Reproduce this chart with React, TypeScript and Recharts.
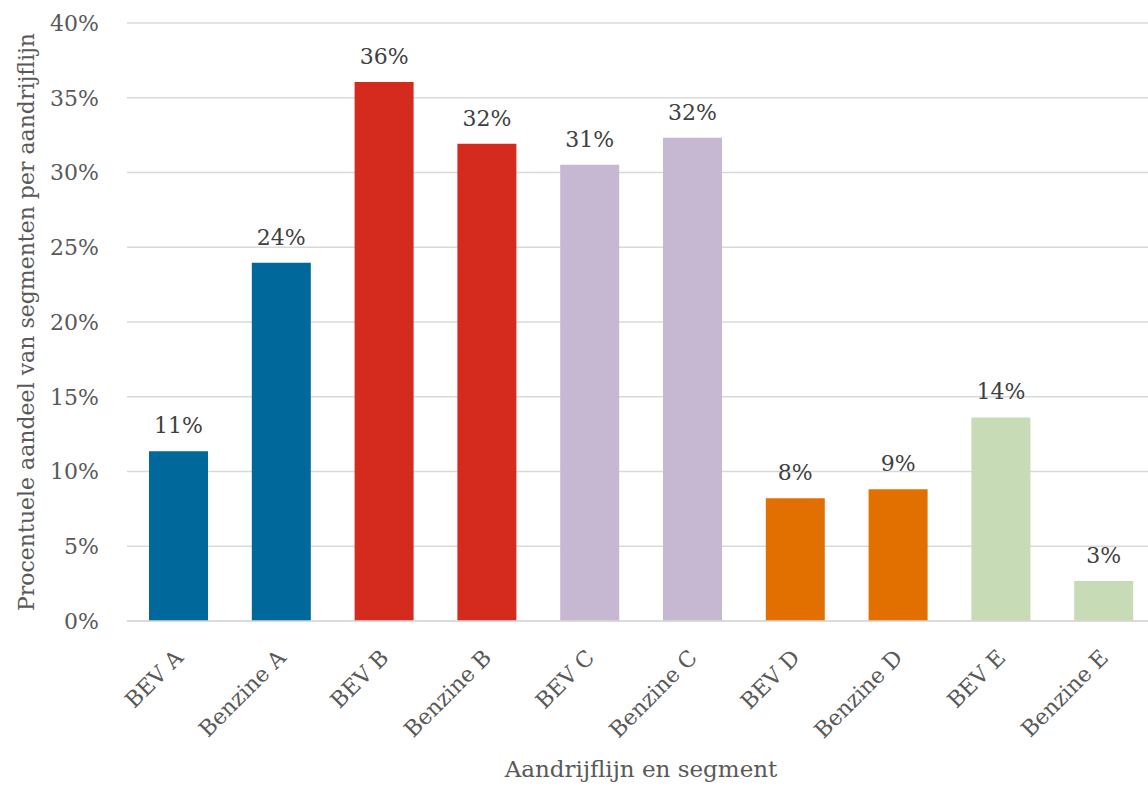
import { BarChart, Bar, XAxis, YAxis, CartesianGrid, Cell, LabelList } from "recharts";

const FONT = "'DejaVu Serif', serif";

const categories = [
  "BEV A", "Benzine A", "BEV B", "Benzine B", "BEV C",
  "Benzine C", "BEV D", "Benzine D", "BEV E", "Benzine E",
];
const shares = [0.1135, 0.2397, 0.3606, 0.3192, 0.3052, 0.3232, 0.0821, 0.0881, 0.1362, 0.0267];
const barColors = [
  "#01689b", "#01689b", "#d52b1e", "#d52b1e", "#c6b8d2",
  "#c6b8d2", "#e17000", "#e17000", "#c6dbb6", "#c6dbb6",
];
const yTicks = [0, 0.05, 0.1, 0.15, 0.2, 0.25, 0.3, 0.35, 0.4];

const data = categories.map((name, i) => ({ name, share: shares[i] }));

const pct = (v: number) => `${Math.round(v * 100)}%`;

function XTick({ x, y, payload }: any) {
  return (
    <g transform={`translate(${x + 6},${y + 38})`}>
      <text
        x={0}
        y={0}
        textAnchor="end"
        transform="rotate(-45)"
        fill="#595959"
        fontSize={22}
        fontFamily={FONT}
      >
        {payload.value}
      </text>
    </g>
  );
}

export default function App() {
  return (
    <div style={{ position: "fixed", left: 0, top: 0, width: 1148, height: 789, overflow: "hidden", background: "#fff" }}>
      <BarChart
        width={1160}
        height={789}
        data={data}
        margin={{ top: 23, right: 5, left: 0, bottom: 0 }}
      >
        <CartesianGrid vertical={false} stroke="#d9d9d9" strokeWidth={1.5} />
        <XAxis
          dataKey="name"
          interval={0}
          height={168}
          tickLine={false}
          tickSize={0}
          tickMargin={0}
          axisLine={{ stroke: "#d9d9d9", strokeWidth: 1.5 }}
          tick={<XTick />}
          label={{
            value: "Aandrijflijn en segment",
            position: "insideBottom",
            offset: 12,
            fill: "#595959",
            fontSize: 23,
            fontFamily: FONT,
          }}
        />
        <YAxis
          width={127}
          domain={[0, 0.4]}
          ticks={yTicks}
          tickFormatter={pct}
          axisLine={false}
          tickLine={false}
          tickSize={0}
          tickMargin={28}
          tick={{ fill: "#595959", fontSize: 22, fontFamily: FONT }}
          label={{
            value: "Procentuele aandeel van segmenten per aandrijflijn",
            angle: -90,
            position: "insideLeft",
            offset: 26,
            textAnchor: "middle",
            fill: "#595959",
            fontSize: 22,
            fontFamily: FONT,
          }}
        />
        <Bar dataKey="share" barSize={59} isAnimationActive={false}>
          {data.map((_, i) => (
            <Cell key={`c-${i}`} fill={barColors[i]} />
          ))}
          <LabelList
            dataKey="share"
            position="top"
            offset={18}
            formatter={(v: any) => pct(Number(v))}
            fill="#404040"
            fontSize={22}
            fontFamily={FONT}
          />
        </Bar>
      </BarChart>
    </div>
  );
}
